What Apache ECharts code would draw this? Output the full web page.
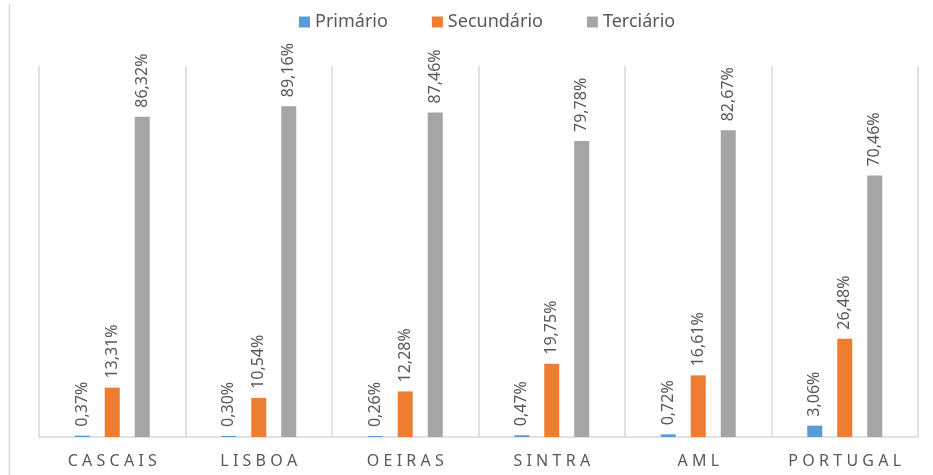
<!DOCTYPE html>
<html><head><meta charset="utf-8">
<script src="https://cdn.jsdelivr.net/npm/echarts@6/dist/echarts.min.js"></script>
<style>html,body{margin:0;padding:0;background:#fff}#c{width:933px;height:475px}</style>
</head><body><div id="c"></div>
<script>
const categories = ['CASCAIS','LISBOA','OEIRAS','SINTRA','AML','PORTUGAL'];
const primario = [0.37, 0.30, 0.26, 0.47, 0.72, 3.06];
const secundario = [13.31, 10.54, 12.28, 19.75, 16.61, 26.48];
const terciario = [86.32, 89.16, 87.46, 79.78, 82.67, 70.46];
const seriesNames = ['Primário','Secundário','Terciário'];
const colors = ['#5b9bd5','#ed7d31','#a5a5a5'];
const FONT = 'Noto Sans';

const chart = echarts.init(document.getElementById('c'), null, {renderer:'canvas'});
const lbl = {
  show:true, position:'top', rotate:90, align:'left', verticalAlign:'middle', distance:9,
  color:'#595959', fontSize:16, fontFamily:FONT,
  formatter: p => p.value.toFixed(2).replace('.', ',') + '%'
};
const mk = (name, data, i) => ({
  name, type:'bar', data, barWidth:15, barGap:'100%',
  itemStyle:{color:colors[i]}, label:lbl
});
chart.setOption({
  animation:false,
  textStyle:{fontFamily:FONT},
  legend:{
    top:8, left:294, itemWidth:11, itemHeight:11, itemGap:44,
    icon:'rect',
    textStyle:{fontSize:18, color:'#595959', fontFamily:FONT},
    data:seriesNames
  },
  grid:{left:39, right:15, top:66, bottom:38},
  graphic:[{type:'line', shape:{x1:9.5,y1:4,x2:9.5,y2:475}, style:{stroke:'#d9d9d9', lineWidth:1.5}}],
  xAxis:{
    type:'category', data:categories,
    axisLine:{lineStyle:{color:'#d9d9d9', width:1.5}},
    axisTick:{show:false},
    splitLine:{show:true, interval:0, lineStyle:{color:'#d9d9d9', width:1.5}},
    axisLabel:{color:'#595959', fontSize:16, fontFamily:FONT, margin:16, interval:0, hideOverlap:false,
      formatter: v => v.split('').join('\u2009\u200A')}
  },
  yAxis:{type:'value', min:0, max:100, show:false, splitLine:{show:false}},
  series:[mk(seriesNames[0], primario, 0), mk(seriesNames[1], secundario, 1), mk(seriesNames[2], terciario, 2)]
});
</script></body></html>
